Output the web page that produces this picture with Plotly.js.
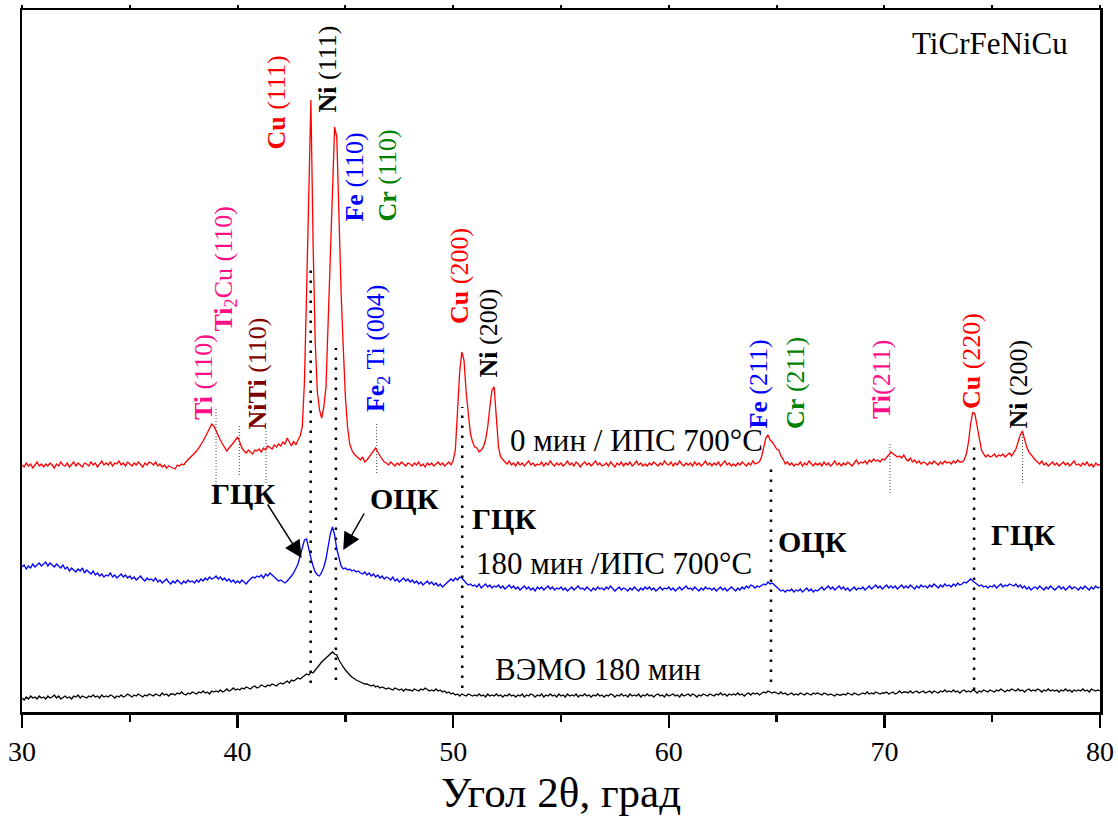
<!DOCTYPE html>
<html><head><meta charset="utf-8">
<script src="https://cdn.plot.ly/plotly-3.0.1.min.js"></script>
<style>html,body{margin:0;padding:0;background:#fff}#chart{width:1118px;height:816px}</style>
</head><body><div id="chart"></div>
<script>
// 2θ grid of the scans (degrees)
const angleStart = 30, angleStep = 0.1;

// 0 min / SPS 700°C (red), intensity in arbitrary units, offset curve
const red0min = [
247,245,249,246,248,244,247,250,246,248,
245,248,246,249,247,244,248,246,250,247,
246,249,245,248,250,246,249,247,245,249,
248,246,250,247,249,245,248,251,247,249,
247,250,246,249,248,251,247,249,246,250,
248,246,249,247,250,248,245,249,247,250,
249,247,250,246,248,245,247,244,246,245,
244,243,247,246,248,247,250,252,254,256,
258,261,264,267,271,275,279,284,288,286,
281,277,272,268,264,261,264,266,269,272,
275,270,264,261,259,262,260,258,262,261,
263,260,264,262,266,264,263,267,265,268,
266,270,268,274,270,266,271,267,272,276,
285,330,420,530,612,470,370,320,302,294,
305,325,390,470,540,585,575,495,420,365,
315,285,268,262,258,256,254,252,255,250,
252,255,258,261,264,260,256,253,250,249,
247,250,248,246,249,247,250,248,246,249,
248,246,249,247,250,246,248,245,249,247,
249,246,248,250,247,249,246,248,250,247,
252,262,300,340,360,352,320,295,278,270,
265,264,260,262,265,272,285,305,322,325,
295,265,255,252,250,248,251,247,249,246,
250,247,249,246,248,251,247,249,246,248,
247,250,246,249,247,251,248,246,249,247,
249,246,248,251,247,249,246,250,248,245,
248,250,247,249,246,248,251,247,249,246,
247,249,246,250,248,245,249,247,250,246,
249,247,250,246,248,251,247,249,246,248,
246,249,247,250,248,246,249,247,251,248,
247,250,246,249,247,251,248,246,249,247,
249,246,250,247,249,246,248,251,247,249,
246,249,247,250,246,248,251,247,249,246,
248,246,249,247,250,248,246,249,247,251,
248,249,250,255,265,274,277,272,270,266,
263,262,256,253,248,250,247,249,246,248,
247,250,246,249,247,251,248,246,249,247,
249,246,250,247,249,246,248,251,247,249,
246,249,247,250,248,246,249,252,248,250,
249,251,248,252,250,253,251,252,250,253,
252,254,257,260,258,257,255,256,254,257,
253,251,254,250,252,249,251,248,250,249,
247,250,248,251,249,247,250,248,251,249,
250,248,251,249,252,250,250,252,258,270,
288,300,298,285,272,262,258,255,257,255,
256,258,255,257,256,258,255,257,259,256,
260,263,270,277,281,272,265,260,257,254,
252,250,248,251,247,249,246,248,250,247,
249,246,248,250,247,249,246,248,251,247,
248,246,249,247,250,246,248,245,249,247,
247];

// 180 min / SPS 700°C (blue)
const blue180min = [
145,147,143,146,144,148,145,147,149,146,
148,150,146,149,147,145,148,146,144,147,
143,145,141,144,142,140,143,141,144,139,
142,140,138,141,137,139,136,138,135,137,
136,139,135,137,134,136,138,135,137,134,
136,133,135,132,134,136,133,131,134,132,
133,131,134,130,132,129,131,133,130,128,
131,129,132,130,128,131,129,132,130,131,
129,132,130,133,131,134,132,135,133,134,
136,133,135,132,134,131,133,130,132,129,
131,129,132,130,128,131,133,135,134,136,
135,137,134,138,136,139,137,135,133,131,
132,130,129,131,133,136,139,143,148,156,
165,172,173,162,154,146,140,137,136,140,
145,153,165,178,185,177,163,153,146,143,
144,142,143,141,142,140,141,139,138,140,
137,139,136,138,135,137,134,136,133,135,
134,132,135,131,133,130,132,134,131,133,
130,132,129,131,128,130,127,129,131,128,
130,127,129,126,128,125,127,129,131,133,
131,134,132,135,134,131,129,127,128,126,
127,125,128,124,126,128,125,127,124,126,
125,127,124,126,123,125,127,124,126,123,
125,122,124,126,123,125,122,124,121,125,
123,125,122,124,126,123,125,122,124,123,
125,122,124,121,123,125,122,124,126,123,
124,122,125,123,121,124,122,125,123,124,
122,125,123,126,124,121,123,125,122,124,
123,121,124,122,125,123,121,124,122,125,
123,125,122,124,121,123,125,122,124,123,
125,122,124,121,123,125,122,124,126,123,
124,122,125,123,121,124,122,125,123,124,
122,124,121,123,125,122,124,121,123,125,
123,121,124,122,125,123,126,124,127,126,
124,126,125,127,128,127,130,128,129,127,
125,123,121,122,120,122,121,123,120,122,
121,123,120,122,124,121,123,120,122,121,
123,125,122,124,126,123,125,122,124,126,
123,125,122,124,121,123,125,122,124,123,
125,122,124,126,123,125,127,124,126,123,
125,127,124,126,124,126,123,125,127,124,
126,124,127,125,123,126,124,127,125,126,
124,127,125,128,126,124,127,125,128,126,
127,125,128,126,129,127,128,130,129,131,
133,131,129,128,126,127,125,126,124,126,
125,127,124,126,128,125,127,126,128,127,
126,128,125,127,124,126,123,125,122,124,
125,123,126,124,122,125,123,126,124,122,
124,126,123,125,122,124,126,123,125,124,
122,125,123,126,124,122,125,123,126,124,
125];

// ВЭМО 180 min (black)
const black180min = [
14,12,15,13,16,14,15,13,16,14,
15,13,16,14,15,17,14,16,13,15,
16,14,15,13,16,15,17,14,16,15,
14,16,15,17,15,16,14,17,15,16,
15,17,16,14,16,15,17,15,16,18,
16,15,17,16,18,16,15,17,16,18,
17,16,18,17,16,19,17,18,16,18,
18,17,19,18,20,18,17,19,18,20,
19,18,20,19,21,19,20,18,21,20,
21,20,22,20,21,23,21,22,24,22,
23,22,24,23,25,24,23,25,26,24,
25,27,26,25,27,26,28,27,26,28,
29,28,30,31,29,32,31,33,34,33,
35,36,38,37,40,39,42,45,48,50,
52,54,57,59,60,58,57,52,48,45,
42,39,37,35,33,32,31,30,29,28,
28,27,26,27,25,26,24,25,24,23,
24,23,22,24,23,22,23,21,23,22,
22,21,23,22,21,23,22,24,22,21,
22,21,23,21,22,20,21,19,20,18,
19,17,18,16,18,17,16,18,17,16,
17,16,18,16,17,15,18,16,17,16,
18,16,17,15,17,16,18,16,17,15,
17,16,18,15,17,16,18,17,15,17,
16,18,15,17,16,18,16,17,15,18,
16,17,15,18,16,17,16,18,15,17,
16,18,16,17,15,17,16,18,16,17,
15,17,16,18,17,15,17,16,18,16,
17,15,18,16,17,16,18,15,17,16,
18,16,17,15,17,18,16,17,15,18,
16,17,18,16,17,15,18,16,17,18,
16,18,17,15,17,16,18,17,16,18,
17,16,18,17,19,17,18,16,18,17,
18,17,19,17,18,16,18,19,17,19,
18,19,17,19,20,19,21,20,19,20,
19,18,20,18,19,17,18,19,17,18,
17,19,18,17,19,18,17,19,18,19,
18,17,19,18,17,18,17,16,18,17,
17,18,17,19,18,17,19,18,17,18,
19,18,20,18,19,18,20,19,18,19,
19,20,18,19,20,18,19,21,19,20,
20,19,21,19,20,21,19,20,21,19,
20,21,19,21,20,19,21,20,22,20,
21,20,22,20,21,19,21,22,20,21,
20,22,21,19,21,20,22,21,20,22,
21,20,22,21,23,21,20,22,21,23,
22,21,23,21,22,20,22,23,21,22,
21,23,22,20,22,21,23,21,22,21,
22,20,22,21,23,21,22,20,22,21,
22,21,23,21,22,20,23,22,21,22,
21];

// Phase reference lines (thick dotted): 2θ, upper end, lower end
const phaseLineX = [43.39, 44.56, 50.42, 64.74, 74.16];
const phaseLineTop = [449, 364, 305, 249, 270];
const phaseLineBottom = [29, 32, 24, 30, 22];
// Minor peak markers (thin dotted)
const peakLineX = [39.0, 40.08, 41.32, 46.45, 70.26, 76.41];
const peakLineTop = [305, 287, 282, 289, 269, 280];
const peakLineBottom = [209, 237, 229, 239, 219, 229];

// Peak labels (rotated)
const peakLabelText = [
  '<b>Ti</b> (110)', '<b>Ti</b><sub>2</sub>Cu (110)', '<b>NiTi</b> (110)',
  '<b>Cu</b> (111)', '<b>Ni</b> (111)', '<b>Fe</b> (110)', '<b>Cr</b> (110)',
  '<b>Fe</b><sub>2</sub> Ti (004)', '<b>Cu</b> (200)', '<b>Ni</b> (200)',
  '<b>Fe</b> (211)', '<b>Cr</b> (211)', '<b>Ti</b>(211)', '<b>Cu</b> (220)', '<b>Ni</b> (200)'
];
const peakLabelX = [38.40, 39.37, 40.92, 41.80, 44.19, 45.40, 46.91, 46.47, 50.27, 51.66, 64.14, 65.85, 69.87, 74.02, 76.20];
const peakLabelY = [291, 379, 282, 562, 599, 489, 489, 299, 387, 334, 282, 282, 292, 302, 282];
const peakLabelColor = ['#ff1088', '#ff1088', '#800000', '#ff0000', '#000000', '#0000ff', '#008000',
  '#0000ff', '#ff0000', '#000000', '#0000ff', '#008000', '#ff1088', '#ff0000', '#000000'];

// Curve captions
const curveCaption = ['0 мин / ИПС 700°С', '180 мин /ИПС 700°С', 'ВЭМО 180 мин'];
const curveCaptionX = [52.54, 50.96, 51.85];
const curveCaptionY = [272, 149, 43];

// Phase captions (bold)
const phaseCaption = ['ГЦК', 'ОЦК', 'ГЦК', 'ОЦК', 'ГЦК'];
const phaseCaptionX = [38.67, 46.05, 50.78, 64.97, 74.85];
const phaseCaptionY = [219, 214, 194, 171, 178];

// Arrows: tip and tail
const arrowTipX = [42.97, 44.90], arrowTipY = [154, 162];
const arrowTailX = [41.35, 45.91], arrowTailY = [209, 200];

const FONT = 'Liberation Serif, Times New Roman, serif';

function segments(xs, tops, bottoms) {
  const x = [], y = [];
  xs.forEach((v, i) => { x.push(v, v, null); y.push(bottoms[i], tops[i], null); });
  return {x, y};
}
const ph = segments(phaseLineX, phaseLineTop, phaseLineBottom);
const pk = segments(peakLineX, peakLineTop, peakLineBottom);

const traces = [
  {x: pk.x, y: pk.y, mode: 'lines', line: {color: '#444', width: 1, dash: '1px,2px'}, hoverinfo: 'skip'},
  {x: ph.x, y: ph.y, mode: 'lines', line: {color: '#000', width: 2.5, dash: '2.5px,7.5px'}, hoverinfo: 'skip'},
  {y: black180min, x0: angleStart, dx: angleStep, mode: 'lines', line: {color: '#000000', width: 1.3}},
  {y: blue180min, x0: angleStart, dx: angleStep, mode: 'lines', line: {color: '#0000ff', width: 1.3}},
  {y: red0min, x0: angleStart, dx: angleStep, mode: 'lines', line: {color: '#ff0000', width: 1.3}},
  // invisible copy on the top axis so that its tick marks are drawn
  {y: red0min, x0: angleStart, dx: angleStep, xaxis: 'x2', mode: 'lines', line: {color: 'rgba(0,0,0,0)', width: 0}, hoverinfo: 'skip'}
];

const annotations = [];
peakLabelText.forEach((t, i) => annotations.push({
  x: peakLabelX[i], y: peakLabelY[i], xref: 'x', yref: 'y', text: t, showarrow: false,
  textangle: -90, xanchor: 'center', yanchor: 'bottom', borderpad: 0,
  font: {family: FONT, size: 26, color: peakLabelColor[i]}
}));
curveCaption.forEach((t, i) => annotations.push({
  x: curveCaptionX[i], y: curveCaptionY[i], xref: 'x', yref: 'y', text: t, showarrow: false,
  xanchor: 'left', yanchor: 'middle', font: {family: FONT, size: 31, color: '#000'}
}));
phaseCaption.forEach((t, i) => annotations.push({
  x: phaseCaptionX[i], y: phaseCaptionY[i], xref: 'x', yref: 'y', text: '<b>' + t + '</b>', showarrow: false,
  xanchor: 'left', yanchor: 'middle', font: {family: FONT, size: 30, color: '#000'}
}));
arrowTipX.forEach((v, i) => annotations.push({
  x: v, y: arrowTipY[i], ax: arrowTailX[i], ay: arrowTailY[i], axref: 'x', ayref: 'y',
  xref: 'x', yref: 'y', text: '', showarrow: true, arrowhead: 2, arrowsize: 2.3, arrowwidth: 1.5,
  arrowcolor: '#000', standoff: 0, startstandoff: 0
}));
annotations.push({
  x: 78.62, y: 669, xref: 'x', yref: 'y', text: 'TiCrFeNiCu', showarrow: false,
  xanchor: 'right', yanchor: 'middle', font: {family: FONT, size: 31, color: '#000'}
});

const layout = {
  width: 1118, height: 816,
  margin: {l: 22, r: 18, t: 10, b: 104},
  paper_bgcolor: '#fff', plot_bgcolor: '#fff',
  showlegend: false,
  font: {family: FONT, color: '#000'},
  xaxis: {
    range: [30, 80], tickvals: [30, 40, 50, 60, 70, 80], ticks: 'outside', ticklen: 13, tickwidth: 2.5,
    tickcolor: '#000', showline: true, linewidth: 2.5, linecolor: '#000', mirror: true,
    showgrid: false, zeroline: false, tickfont: {family: FONT, size: 28, color: '#000'},
    minor: {tickvals: [35, 45, 55, 65, 75], ticks: 'outside', ticklen: 7, tickwidth: 2.5, tickcolor: '#000', showgrid: false},
    title: {text: 'Угол 2θ, град', font: {family: FONT, size: 43, color: '#000'}, standoff: 11}
  },
  xaxis2: {
    overlaying: 'x', side: 'top', anchor: 'y', range: [30, 80], tick0: 30, dtick: 5,
    ticks: 'outside', ticklen: 4, tickwidth: 2, tickcolor: '#000', showticklabels: false,
    showline: false, showgrid: false, zeroline: false
  },
  yaxis: {
    range: [0, 702], showticklabels: false, ticks: '', showline: true, linewidth: 2.5, linecolor: '#000',
    mirror: true, showgrid: false, zeroline: false
  },
  annotations: annotations
};

Plotly.newPlot('chart', traces, layout, {displayModeBar: false, staticPlot: true});
</script>
</body></html>
